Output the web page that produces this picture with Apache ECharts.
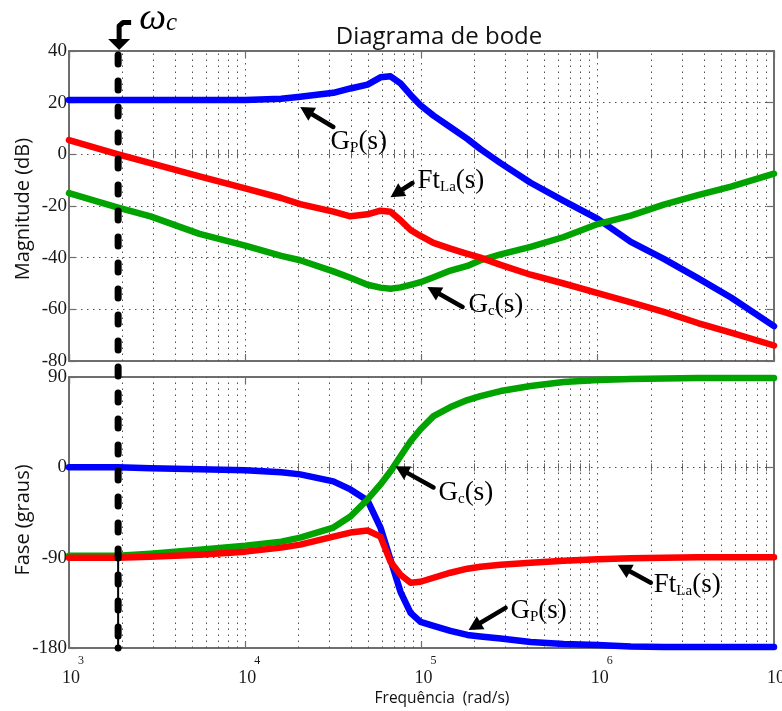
<!DOCTYPE html>
<html>
<head>
<meta charset="utf-8">
<title>Diagrama de bode</title>
<script src="https://cdn.jsdelivr.net/npm/echarts@6/dist/echarts.min.js"></script>
<style>
html, body { margin: 0; padding: 0; background: #ffffff; }
#chart { width: 782px; height: 711px; }
</style>
</head>
<body>
<div id="chart"></div>
<script>
// Frequency samples (rad/s) shared by every curve
const FREQ = [1000, 1900, 2900, 5500, 10000, 16000, 20500, 31600, 39500, 49400,
  58500, 66700, 76000, 86700, 98700, 117000, 146000, 182000, 216000, 281000,
  416000, 641000, 1000000, 1540000, 2370000, 3700000, 5700000, 10000000];

// Magnitude (dB)
const MAG_GP   = [21, 21, 21, 21, 21, 21.5, 22.3, 23.8, 25.5, 27, 29.8, 30.2, 27.5, 23, 19,
  15, 10.5, 6, 2, -3.4, -11, -18, -25, -33.9, -40.5, -47.9, -55.4, -66.5];
const MAG_FTLA = [5.5, 0, -3.4, -8.5, -13.2, -16.9, -19.3, -22.2, -24, -23.2, -21.8, -22.2, -25.5, -29.3, -31.6,
  -34.3, -36.5, -38.5, -40, -42.8, -46.6, -50, -53.7, -57.3, -61, -65.3, -69, -74];
const MAG_GC   = [-15, -20.6, -24, -30.8, -35.3, -39.3, -41, -45.3, -47.8, -50.5, -51.6, -52, -51.5, -50.5, -49.5,
  -47.6, -45, -43.2, -41, -38.7, -35.8, -32, -27, -23.7, -19.5, -15.8, -12.5, -7.5];

// Phase (degrees)
const PH_GP   = [0, 0, -1, -2, -3, -5, -7, -14, -22, -33, -60, -92, -124, -145, -154,
  -158, -163, -167, -168.5, -170.5, -174, -176, -177, -178.5, -179, -179, -179, -179];
const PH_FTLA = [-90, -90, -89, -87, -84, -80, -77, -69, -65, -63, -69, -94, -107, -115, -114,
  -110, -105, -101, -99, -97, -95, -93, -91.5, -90.5, -90, -89.5, -89.5, -89.5];
const PH_GC   = [-88, -88, -86, -82, -78, -74, -70, -60, -49, -32, -17, -4, 11, 26, 38,
  51, 60, 67, 71, 76, 81, 85, 87, 88, 88.5, 89, 89, 89];

// Crossover frequency marked by the dashed line
const OMEGA_C = 1900;

// Axis ranges [min, max, interval]
const MAG_RANGE = [-80, 40, 20];
const PHASE_RANGE = [-180, 90, 90];
const F_MIN = 1e3, F_MAX = 1e7;

// Minor log grid positions (2..9 x each decade)
const MINOR_FREQ = [];
for (let d = 1e3; d < F_MAX; d *= 10) {
  for (let m = 2; m <= 9; m++) MINOR_FREQ.push(m * d);
}

// Arrow annotations: tip and tail of the arrow, left/middle anchor of the label
const NOTES = [
  { grid: 0, text: '{m|G}{s|P}{m|(s)}',   tip: [20500, 18.3],    tail: [31600, 10.6],    at: [30500, 4.8] },
  { grid: 0, text: '{m|Ft}{s|La}{m|(s)}', tip: [66700, -16.6],   tail: [88900, -11.1],   at: [94900, -10.3] },
  { grid: 0, text: '{m|G}{s|c}{m|(s)}',   tip: [108000, -51.4],  tail: [171000, -59.1],  at: [185000, -58.3] },
  { grid: 1, text: '{m|G}{s|c}{m|(s)}',   tip: [71100, 1],       tail: [117000, -20],    at: [125000, -25] },
  { grid: 1, text: '{m|Ft}{s|La}{m|(s)}', tip: [1300000, -97],   tail: [2000000, -115],  at: [2080000, -117] },
  { grid: 1, text: '{m|G}{s|P}{m|(s)}',   tip: [185000, -162],   tail: [300000, -140],   at: [320000, -143] }
];

const BLUE = '#0000ff', RED = '#ff0000', GREEN = '#00a300';
const FRAME = '#6e6e6e';
const SERIF = 'Liberation Serif';
const SANS = 'Open Sans';
const DOT = { color: '#505050', width: 1, type: [1.5, 4.5] };

const chart = echarts.init(document.getElementById('chart'), null, { renderer: 'canvas' });

function xAxesFor(gridIndex, withLabels) {
  const base = { type: 'log', logBase: 10, min: F_MIN, max: F_MAX, gridIndex: gridIndex };
  const line = { show: true, onZero: false, lineStyle: { color: FRAME, width: 2 } };
  const major = { show: true, inside: true, length: 7, lineStyle: { color: FRAME, width: 1.2 } };
  const minor = { show: true, inside: true, length: 4, customValues: MINOR_FREQ, lineStyle: { color: FRAME, width: 1 } };
  const label = withLabels ? {
    show: true, margin: 6,
    formatter: function (v) { return '{e|' + Math.round(Math.log10(v)) + '}\n{b|10}'; },
    rich: {
      e: { fontFamily: SERIF, fontSize: 12, lineHeight: 14, padding: [0, 0, 0, 24], color: '#1a1a1a' },
      b: { fontFamily: SERIF, fontSize: 18, lineHeight: 20, padding: [0, 0, 0, 4], color: '#1a1a1a' }
    }
  } : { show: false };
  return [
    Object.assign({}, base, { position: 'bottom', axisLine: line, axisTick: major, axisLabel: label, splitLine: { show: true, lineStyle: DOT } }),
    Object.assign({}, base, { position: 'top', axisLine: line, axisTick: major, axisLabel: { show: false }, splitLine: { show: false } }),
    Object.assign({}, base, { position: 'bottom', axisLine: { show: false }, axisTick: minor, axisLabel: { show: false }, splitLine: { show: false } }),
    Object.assign({}, base, { position: 'top', axisLine: { show: false }, axisTick: minor, axisLabel: { show: false }, splitLine: { show: false } })
  ];
}

function yAxesFor(gridIndex, range) {
  const base = { type: 'value', gridIndex: gridIndex, min: range[0], max: range[1], interval: range[2] };
  const line = { show: true, onZero: false, lineStyle: { color: FRAME, width: 2 } };
  const tick = { show: true, inside: true, length: 7, lineStyle: { color: FRAME, width: 1.2 } };
  return [
    Object.assign({}, base, { position: 'left', axisLine: line, axisTick: tick,
      axisLabel: { show: true, margin: 2, fontFamily: SERIF, fontSize: 19, color: '#1a1a1a' },
      splitLine: { show: true, lineStyle: DOT } }),
    Object.assign({}, base, { position: 'right', axisLine: line, axisTick: tick,
      axisLabel: { show: false }, splitLine: { show: false } })
  ];
}

function curve(name, grid, vals, color) {
  return {
    name: name, type: 'line', xAxisIndex: grid * 4, yAxisIndex: grid * 2,
    data: FREQ.map(function (f, i) { return [f, vals[i]]; }),
    showSymbol: false, symbol: 'none', silent: true, z: 3,
    lineStyle: { color: color, width: 6.5, cap: 'round', join: 'round' },
    itemStyle: { color: color }
  };
}

function minorGrid(grid) {
  return {
    type: 'line', xAxisIndex: grid * 4, yAxisIndex: grid * 2, data: [], silent: true,
    markLine: {
      z: 1, silent: true, symbol: ['none', 'none'], label: { show: false }, animation: false,
      lineStyle: DOT, emphasis: { disabled: true },
      data: MINOR_FREQ.map(function (f) { return { xAxis: f }; })
    }
  };
}

const option = {
  animation: false,
  backgroundColor: '#ffffff',
  grid: [
    { left: 69, top: 51, width: 705, height: 310, containLabel: false, outerBoundsMode: 'none' },
    { left: 69, top: 377, width: 705, height: 271, containLabel: false, outerBoundsMode: 'none' }
  ],
  xAxis: xAxesFor(0, false).concat(xAxesFor(1, true)),
  yAxis: yAxesFor(0, MAG_RANGE).concat(yAxesFor(1, PHASE_RANGE)),
  series: [
    minorGrid(0),
    minorGrid(1),
    curve('G_P(s)', 0, MAG_GP, BLUE),
    curve('G_c(s)', 0, MAG_GC, GREEN),
    curve('Ft_La(s)', 0, MAG_FTLA, RED),
    curve('G_P(s)', 1, PH_GP, BLUE),
    curve('G_c(s)', 1, PH_GC, GREEN),
    curve('Ft_La(s)', 1, PH_FTLA, RED)
  ]
};

chart.setOption(option);

// Overlay: title, axis names, crossover marker and arrow notes
function toPx(grid, pt) { return chart.convertToPixel({ gridIndex: grid }, pt); }

function textEl(x, y, text, style, extra) {
  return Object.assign({
    type: 'text', x: x, y: y, z: 60, silent: true,
    style: Object.assign({ text: text, fill: '#111', align: 'center', verticalAlign: 'middle',
      textAlign: 'center', textVerticalAlign: 'middle' }, style)
  }, extra || {});
}

function arrowEls(tail, tip) {
  const dx = tip[0] - tail[0], dy = tip[1] - tail[1];
  const L = Math.hypot(dx, dy), ux = dx / L, uy = dy / L;
  const HL = 14, HW = 7.5;
  const bx = tip[0] - ux * HL, by = tip[1] - uy * HL;
  return [
    { type: 'line', z: 50, silent: true,
      shape: { x1: tail[0], y1: tail[1], x2: bx + ux * 3, y2: by + uy * 3 },
      style: { stroke: '#000', lineWidth: 4.5, lineCap: 'round' } },
    { type: 'polygon', z: 50, silent: true,
      shape: { points: [[tip[0], tip[1]], [bx - uy * HW, by + ux * HW], [bx + uy * HW, by - ux * HW]] },
      style: { fill: '#000' } }
  ];
}

const noteRich = {
  m: { fontFamily: SERIF, fontSize: 27, lineHeight: 28, fill: '#000' },
  s: { fontFamily: SERIF, fontSize: 15, lineHeight: 10, verticalAlign: 'bottom', fill: '#000' }
};

const els = [];

// Title and axis names
els.push(textEl(439, 37, 'Diagrama de bode', { fontFamily: SANS, fontSize: 24 }));
els.push(textEl(23, 209, 'Magnitude (dB)', { fontFamily: SANS, fontSize: 20 }, { rotation: Math.PI / 2 }));
els.push(textEl(23, 520, 'Fase (graus)', { fontFamily: SANS, fontSize: 20 }, { rotation: Math.PI / 2 }));
els.push(textEl(442, 699, 'Frequência  (rad/s)', { fontFamily: SANS, fontSize: 15.5 }));

// Crossover frequency: dashed vertical through both panels
const cTop = toPx(0, [OMEGA_C, MAG_RANGE[1]]);
const cMid = toPx(1, [OMEGA_C, -90]);
const cBot = toPx(1, [OMEGA_C, PHASE_RANGE[0]]);
const xc = cTop[0];
els.push({ type: 'line', z: 55, silent: true,
  shape: { x1: xc, y1: cMid[1], x2: xc, y2: cBot[1] },
  style: { stroke: '#000', lineWidth: 2 } });
els.push({ type: 'line', z: 56, silent: true,
  shape: { x1: xc, y1: cTop[1] + 4, x2: xc, y2: cBot[1] },
  style: { stroke: '#000', lineWidth: 7, lineCap: 'round', lineDash: [9, 17] } });
els.push({ type: 'circle', z: 56, silent: true,
  shape: { cx: xc, cy: cBot[1], r: 3.5 }, style: { fill: '#000' } });

// Hooked arrow and label above the crossover line
els.push({ type: 'polyline', z: 56, silent: true,
  shape: { points: [[xc + 13, cTop[1] - 28.5], [xc + 5, cTop[1] - 28.5], [xc + 1, cTop[1] - 25], [xc + 1, cTop[1] - 11]] },
  style: { stroke: '#000', lineWidth: 5, lineJoin: 'round', fill: null } });
els.push({ type: 'polygon', z: 56, silent: true,
  shape: { points: [[xc - 10, cTop[1] - 12], [xc + 12, cTop[1] - 12], [xc + 1, cTop[1] - 1]] },
  style: { fill: '#000' } });
els.push(textEl(xc + 21, cTop[1] - 32, '{w|ω}{c|c}', {
  align: 'left', textAlign: 'left',
  rich: {
    w: { fontFamily: SERIF, fontStyle: 'italic', fontSize: 38, lineHeight: 34, fill: '#000' },
    c: { fontFamily: SERIF, fontStyle: 'italic', fontSize: 25, lineHeight: 12, verticalAlign: 'bottom', fill: '#000' }
  }
}));

// Curve labels with arrows
NOTES.forEach(function (n) {
  const tip = toPx(n.grid, n.tip);
  const tail = toPx(n.grid, n.tail);
  const at = toPx(n.grid, n.at);
  arrowEls(tail, tip).forEach(function (e) { els.push(e); });
  els.push(textEl(at[0], at[1], n.text, { align: 'left', textAlign: 'left', rich: noteRich }));
});

chart.setOption({ graphic: { elements: els } });
</script>
</body>
</html>
